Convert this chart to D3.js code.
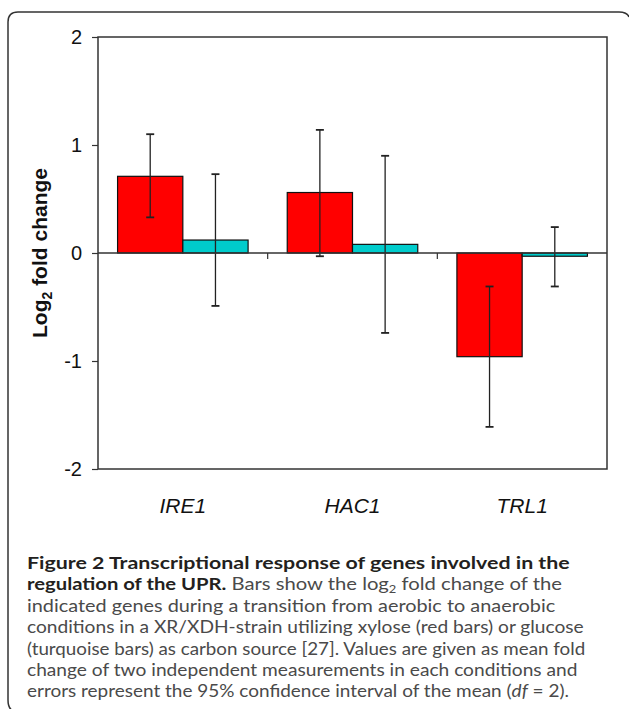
<!DOCTYPE html>
<html>
<head>
<meta charset="utf-8">
<script src="https://cdn.jsdelivr.net/npm/d3@7"></script>
<style>
  html, body { margin: 0; padding: 0; background: #fff; }
  svg { display: block; }
</style>
</head>
<body>
<svg id="chart" width="629" height="709"></svg>
<script>
// ---------- Data ----------
const genes       = ["IRE1", "HAC1", "TRL1"];
const series      = ["xylose", "glucose"];
const xyloseMean  = [0.71, 0.56, -0.96];
const xyloseLo    = [0.33, -0.03, -1.61];
const xyloseHi    = [1.10, 1.14, -0.31];
const glucoseMean = [0.12, 0.08, -0.03];
const glucoseLo   = [-0.49, -0.74, -0.31];
const glucoseHi   = [0.73, 0.90, 0.24];
const yTicks      = [-2, -1, 0, 1, 2];
const colors      = ["#ff0000", "#00cccc"];

const captionLines = [
  [["b", "Figure 2 Transcriptional response of genes involved in the"]],
  [["b", "regulation of the UPR."], ["r", " Bars show the log"], ["sub", "2"], ["up", " fold change of the"]],
  [["r", "indicated genes during a transition from aerobic to anaerobic"]],
  [["r", "conditions in a XR/XDH-strain utilizing xylose (red bars) or glucose"]],
  [["r", "(turquoise bars) as carbon source [27]. Values are given as mean fold"]],
  [["r", "change of two independent measurements in each conditions and"]],
  [["r", "errors represent the 95% confidence interval of the mean ("], ["i", "df"], ["r", " = 2)."]]
];
const captionEnds = [570, 562, 555, 584, 585, 578, 569];

// ---------- Layout ----------
const svg = d3.select("#chart");
const M = { l: 98, r: 607, t: 37, b: 469 };
const axisFont = "Liberation Sans, Arial, sans-serif";

// outer rounded frame, cropped on the right and bottom
svg.append("path")
  .attr("d", "M18,712 Q8,712 8,700 L8,22 Q8,12 18,12 L619,12 Q627,12 629,17")
  .attr("fill", "none").attr("stroke", "#333").attr("stroke-width", 1.5);

const x0 = d3.scaleBand().domain(genes).range([M.l, M.r]);
const x1 = d3.scaleBand().domain(series).range([0, x0.bandwidth()]).paddingOuter(0.3);
const y  = d3.scaleLinear().domain([-2, 2]).range([M.b, M.t]);

const g = svg.append("g");

// plot frame
g.append("rect")
  .attr("x", M.l).attr("y", M.t)
  .attr("width", M.r - M.l).attr("height", M.b - M.t)
  .attr("fill", "none").attr("stroke", "#333").attr("stroke-width", 1.5);

// y axis
const yAxis = d3.axisLeft(y).tickValues(yTicks).tickSize(6).tickPadding(10).tickFormat(d3.format("d"));
const ya = g.append("g").attr("transform", `translate(${M.l},0)`).call(yAxis);
ya.select(".domain").remove();
ya.selectAll("line").attr("stroke", "#333").attr("stroke-width", 1.2);
ya.selectAll("text")
  .attr("font-family", axisFont)
  .attr("font-size", 20).attr("fill", "#111")
  .text(d => d < 0 ? "-" + Math.abs(d) : d);

const yt = g.append("text")
  .attr("transform", `translate(47,${y(0)}) rotate(-90)`)
  .attr("text-anchor", "middle")
  .attr("font-family", axisFont)
  .attr("font-size", 21).attr("font-weight", "bold").attr("fill", "#111");
yt.append("tspan").text("Log");
yt.append("tspan").attr("font-size", 14).attr("dy", 5).text("2");
yt.append("tspan").attr("dy", -5).text(" fold change");

// bars
const rows = genes.map((gene, i) => ({
  gene,
  vals: [
    { s: "xylose", v: xyloseMean[i], lo: xyloseLo[i], hi: xyloseHi[i] },
    { s: "glucose", v: glucoseMean[i], lo: glucoseLo[i], hi: glucoseHi[i] }
  ]
}));

const grp = g.selectAll(".grp").data(rows).enter().append("g")
  .attr("transform", d => `translate(${x0(d.gene)},0)`);

grp.selectAll("rect").data(d => d.vals).enter().append("rect")
  .attr("x", d => x1(d.s))
  .attr("width", x1.bandwidth())
  .attr("y", d => y(Math.max(0, d.v)))
  .attr("height", d => Math.abs(y(d.v) - y(0)))
  .attr("fill", (d, i) => colors[i])
  .attr("stroke", "#111").attr("stroke-width", 1.2);

// zero line
g.append("line")
  .attr("x1", M.l).attr("x2", M.r).attr("y1", y(0)).attr("y2", y(0))
  .attr("stroke", "#333").attr("stroke-width", 1.5);

// category separator ticks
genes.slice(1).forEach(gene => {
  g.append("line")
    .attr("x1", x0(gene)).attr("x2", x0(gene))
    .attr("y1", y(0)).attr("y2", y(0) + 6)
    .attr("stroke", "#333").attr("stroke-width", 1.2);
});

// error bars
const cx = d => x1(d.s) + x1.bandwidth() / 2;
const eb = grp.selectAll(".err").data(d => d.vals).enter().append("g")
  .attr("stroke", "#222").attr("stroke-width", 1.3);
eb.append("line")
  .attr("x1", cx).attr("x2", cx)
  .attr("y1", d => y(d.lo)).attr("y2", d => y(d.hi));
["lo", "hi"].forEach(k => {
  eb.append("line")
    .attr("x1", d => cx(d) - 4).attr("x2", d => cx(d) + 4)
    .attr("y1", d => y(d[k])).attr("y2", d => y(d[k]))
    .attr("stroke-width", 1.8);
});

// category labels
g.selectAll(".cat").data(genes).enter().append("text")
  .attr("x", d => x0(d) + x0.bandwidth() / 2)
  .attr("y", 513)
  .attr("text-anchor", "middle")
  .attr("font-family", axisFont)
  .attr("font-size", 21).attr("font-style", "italic").attr("fill", "#111")
  .text(d => d);

// ---------- Caption ----------
const capX = 27, capY0 = 569, capDy = 21.4;
captionLines.forEach((parts, li) => {
  const t = svg.append("text")
    .attr("x", capX).attr("y", capY0 + li * capDy)
    .attr("font-family", "Lato, sans-serif")
    .attr("font-size", 17.2).attr("fill", "#4a4a4a");
  parts.forEach(([kind, s]) => {
    const sp = t.append("tspan").text(s);
    if (kind === "b") sp.attr("font-weight", "bold").attr("fill", "#231f20");
    if (kind === "i") sp.attr("font-style", "italic");
    if (kind === "sub") sp.attr("font-size", 11).attr("dy", 2.5);
    if (kind === "up") sp.attr("dy", -2.5);
  });
  // stretch each line to the width it has in the figure
  const w = t.node().getComputedTextLength();
  const k = (captionEnds[li] - capX) / w;
  t.attr("transform", `translate(${capX},0) scale(${k},1) translate(${-capX},0)`);
});
</script>
</body>
</html>
